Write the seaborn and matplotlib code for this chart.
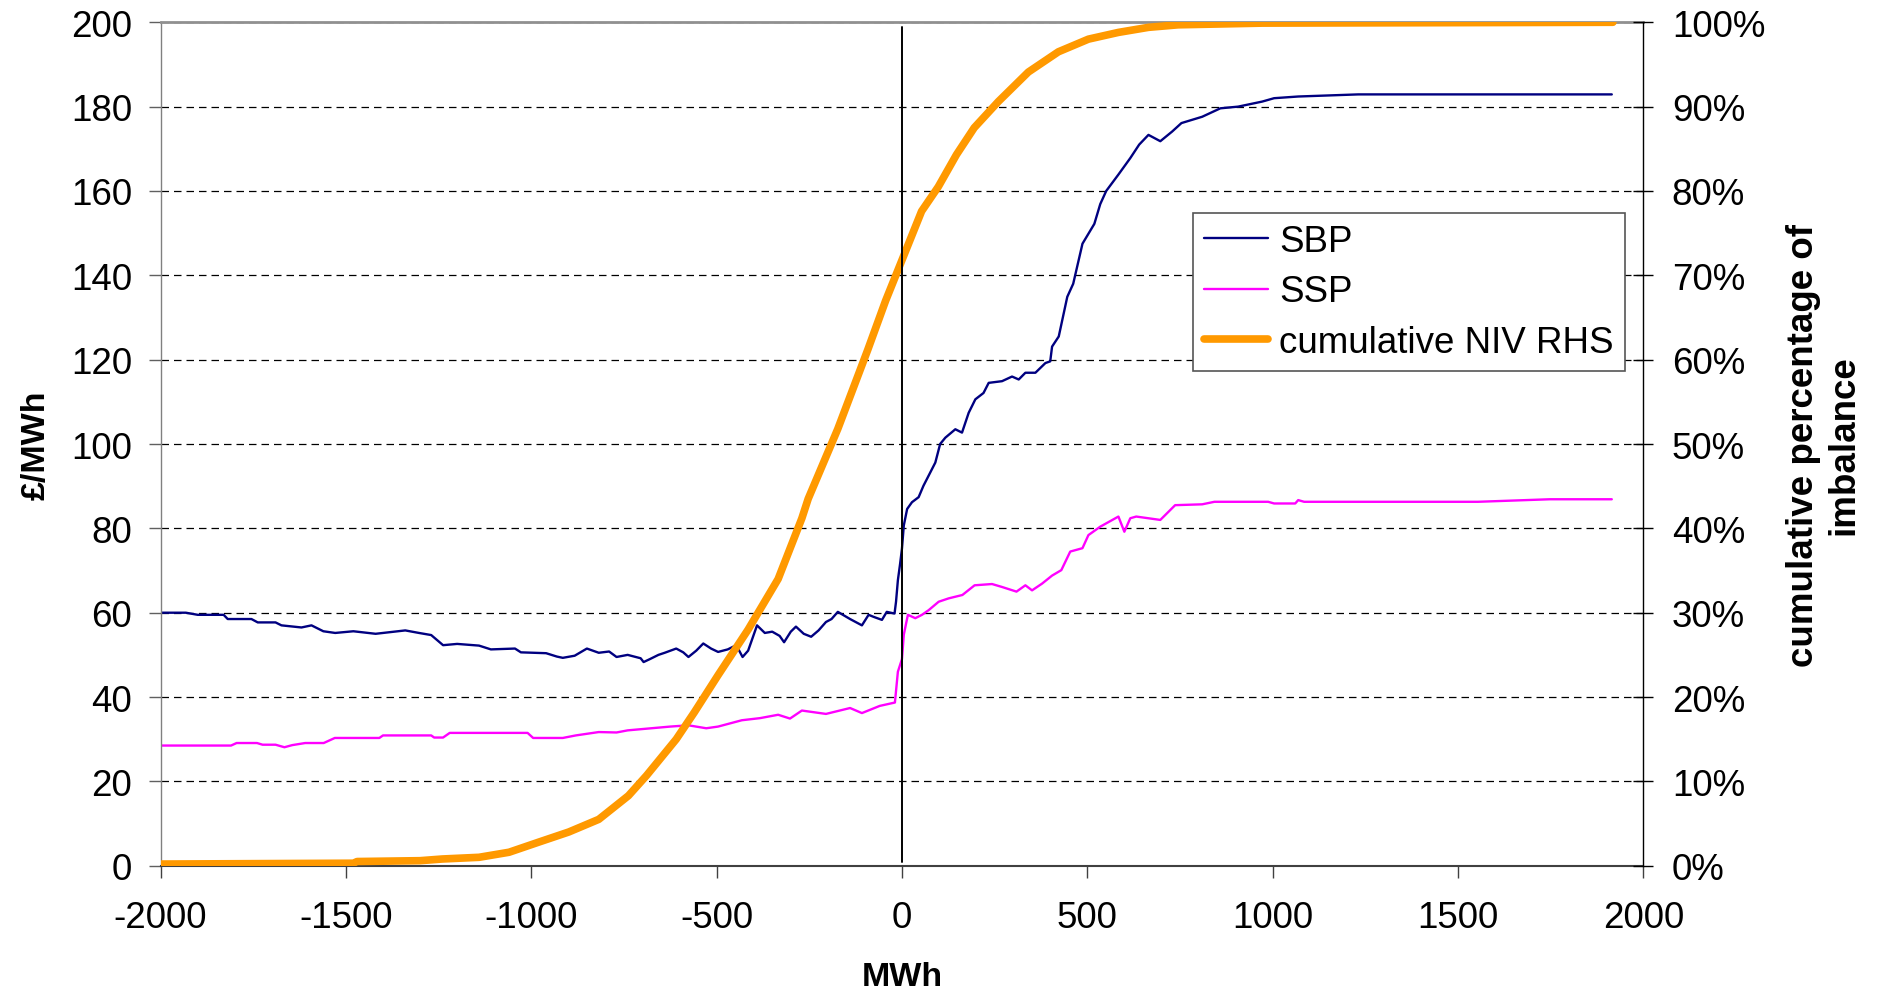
import matplotlib.pyplot as plt
import seaborn as sns
from matplotlib.ticker import PercentFormatter, MultipleLocator

# 系统买价 SBP（£/MWh）按净不平衡量 MWh
sbp_mwh = [-2000, -1932, -1900, -1830, -1819, -1755, -1738, -1690, -1674, -1620, -1593, -1561,
           -1529, -1480, -1420, -1380, -1340, -1303, -1270, -1238, -1200, -1141, -1109, -1044,
           -1028, -960, -931, -915, -883, -850, -818, -790, -770, -740, -705, -697, -680, -657,
           -640, -609, -590, -576, -555, -536, -515, -496, -470, -447, -430, -415, -391, -370,
           -350, -330, -318, -300, -286, -265, -245, -225, -205, -190, -173, -140, -108, -90,
           -76, -54, -41, -20, -16, -11, -5, 0, 5, 14, 27, 45, 58, 72, 90, 103, 117, 144, 162,
           180, 198, 220, 234, 270, 297, 315, 333, 360, 387, 400, 405, 423, 446, 462, 487, 519,
           535, 551, 584, 616, 640, 665, 697, 729, 754, 810, 859, 907, 972, 1004, 1069, 1134,
           1231, 1580, 1915]
sbp_price = [60, 60, 59.5, 59.5, 58.5, 58.5, 57.7, 57.7, 57, 56.5, 57, 55.6,
             55.2, 55.6, 55, 55.4, 55.8, 55.2, 54.7, 52.3, 52.6, 52.2, 51.3, 51.5,
             50.6, 50.4, 49.6, 49.3, 49.8, 51.5, 50.5, 50.8, 49.5, 50, 49.2, 48.3, 49, 50,
             50.5, 51.5, 50.6, 49.5, 51, 52.7, 51.5, 50.7, 51.3, 52.3, 49.5, 51, 57, 55.2,
             55.5, 54.5, 53, 55.5, 56.7, 55, 54.3, 55.8, 57.8, 58.5, 60.2, 58.5, 57, 59.5,
             59, 58.3, 60.2, 59.8, 62.6, 67.7, 71.6, 75.2, 80.7, 84.6, 86.2, 87.4, 90.1, 92.5, 95.6, 100, 101.5, 103.5, 102.7,
             107.4, 110.6, 112.1, 114.5, 114.9, 116, 115.3, 116.9, 116.9, 119.2, 119.6, 123.1, 125.5, 134.9, 138, 147.5, 152.2,
             156.9, 160, 163.9, 167.8, 171, 173.3, 171.8, 174.1, 176.1, 177.6, 179.6, 180, 181.2, 182, 182.4, 182.6,
             182.9, 182.9, 182.9]

# 系统卖价 SSP（£/MWh）
ssp_mwh = [-2000, -1810, -1795, -1740, -1725, -1690, -1666, -1645, -1610, -1560, -1530, -1410,
           -1400, -1270, -1262, -1238, -1220, -1010, -995, -915, -880, -818, -770, -740, -689,
           -625, -576, -528, -496, -432, -383, -334, -302, -270, -205, -140, -108, -60, -19,
           -11, 0, 5, 16, 36, 54, 72, 99, 126, 163, 196, 243, 270, 309, 333, 351, 378, 405,
           430, 454, 487, 503, 535, 584, 600, 616, 632, 697, 737, 810, 843, 988, 1004, 1061,
           1069, 1085, 1554, 1748, 1915]
ssp_price = [28.5, 28.5, 29.1, 29.1, 28.7, 28.7, 28.1, 28.6, 29.1, 29.1, 30.3, 30.3,
             30.9, 30.9, 30.4, 30.4, 31.5, 31.5, 30.3, 30.3, 30.9, 31.7, 31.6, 32.1, 32.5,
             33, 33.3, 32.6, 33, 34.5, 35, 35.8, 34.9, 36.8, 36, 37.4, 36.2, 37.9, 38.7,
             46, 49, 54.8, 59.5, 58.7, 59.5, 60.6, 62.6, 63.4, 64.2, 66.5, 66.8, 66.1, 65, 66.5, 65.3, 66.9, 68.8,
             70.1, 74.5, 75.3, 78.4, 80.4, 82.8, 79.2, 82.4, 82.8, 82, 85.5, 85.7, 86.3, 86.3, 85.9, 85.9,
             86.7, 86.3, 86.3, 86.9, 86.9]

# 累计 NIV 百分比（右轴）
niv_mwh = [-2000, -1480, -1470, -1300, -1240, -1141, -1060, -980, -899, -818, -738, -689,
           -609, -560, -496, -415, -334, -270, -253, -173, -92, -44, 0, 53, 98, 147, 195,
           260, 341, 422, 503, 584, 665, 745, 972, 1918]
niv_pct = [0.2, 0.3, 0.5, 0.6, 0.8, 1.0, 1.6, 2.8, 4.0, 5.5, 8.3, 10.7,
           15.0, 18.2, 22.6, 28.0, 34.0, 41.2, 43.5, 51.8, 61.2, 67.0, 71.8, 77.6, 80.5, 84.3, 87.5,
           90.6, 94.1, 96.5, 98.0, 98.8, 99.4, 99.7, 99.9, 100]

sns.set_theme(style="white")
plt.rcParams["font.family"] = ["Liberation Sans", "DejaVu Sans"]
plt.rcParams["axes.unicode_minus"] = False  # 用普通连字符作负号
# 文字改为纯黑
plt.rcParams["text.color"] = "black"
plt.rcParams["axes.labelcolor"] = "black"
plt.rcParams["xtick.color"] = "black"
plt.rcParams["ytick.color"] = "black"

fig = plt.figure(figsize=(18.83, 9.95), dpi=100)
ax = fig.add_axes([0.0853, 0.1289, 0.7874, 0.8477])
ax2 = ax.twinx()

sns.lineplot(x=sbp_mwh, y=sbp_price, ax=ax, color="#000080", linewidth=1.7,
             errorbar=None, legend=False)
sns.lineplot(x=ssp_mwh, y=ssp_price, ax=ax, color="#FF00FF", linewidth=1.7,
             errorbar=None, legend=False)
sns.lineplot(x=niv_mwh, y=niv_pct, ax=ax2, color="#FF9900", linewidth=5.5,
             errorbar=None, legend=False)
ax2.axvline(0, ymin=0.005, ymax=0.995, color="black", linewidth=1.4, zorder=5)

ax.set_xlim(-2000, 2000)
ax.set_ylim(0, 200)
ax2.set_ylim(0, 100)
ax.xaxis.set_major_locator(MultipleLocator(500))
ax.yaxis.set_major_locator(MultipleLocator(20))
ax2.yaxis.set_major_locator(MultipleLocator(10))
ax2.yaxis.set_major_formatter(PercentFormatter(xmax=100, decimals=0))

# 虚线网格
ax.yaxis.grid(True, color="black", linestyle=(0, (6, 4)), linewidth=0.9)
ax.xaxis.grid(False)

# 边框
for side in ["left", "top", "bottom"]:
    ax2.spines[side].set_visible(False)
ax.spines["right"].set_visible(False)
ax.spines["top"].set_color("#909090")
ax.spines["top"].set_linewidth(2)
ax.spines["left"].set_color("#808080")
ax.spines["left"].set_linewidth(1)
ax.spines["bottom"].set_color("#404040")
ax.spines["bottom"].set_linewidth(1.5)
ax2.spines["right"].set_color("black")
ax2.spines["right"].set_linewidth(1)

ax.tick_params(axis="y", direction="out", length=8.6, width=1, color="#606060",
               labelcolor="black", pad=12, labelsize=26.5, left=True)
ax.tick_params(axis="x", direction="out", length=8.6, width=1, color="#404040",
               labelcolor="black", pad=16, labelsize=26.5, bottom=True)
ax2.tick_params(axis="y", direction="inout", length=15, width=1, color="black",
                labelcolor="black", pad=13, labelsize=26.5, right=True)

ax.set_xlabel("MWh", fontsize=24.5, fontweight="bold", color="black")
ax.xaxis.set_label_coords(0.5, -0.113)
ax.set_ylabel("£/MWh", fontsize=24.5, fontweight="bold", color="black")
ax.yaxis.set_label_coords(-0.0733, 0.5)
ax2.set_ylabel("cumulative percentage of\nimbalance", fontsize=26.5, fontweight="bold",
               color="black")
ax2.yaxis.set_label_coords(1.0963, 0.5)

handles = [ax.lines[0], ax.lines[1], ax2.lines[0]]
labels = ["SBP", "SSP", "cumulative NIV RHS"]
leg = ax2.legend(handles, labels, loc="upper left", bbox_to_anchor=(0.696, 0.774),
                 borderaxespad=0, fontsize=26.5, frameon=True, fancybox=False,
                 framealpha=1, edgecolor="#555555", handlelength=1.75,
                 handletextpad=0.3, labelspacing=0.42, borderpad=0.3,
                 labelcolor="black")
leg.get_frame().set_linewidth(1.2)

plt.savefig("out.png", dpi=100)
plt.close()
